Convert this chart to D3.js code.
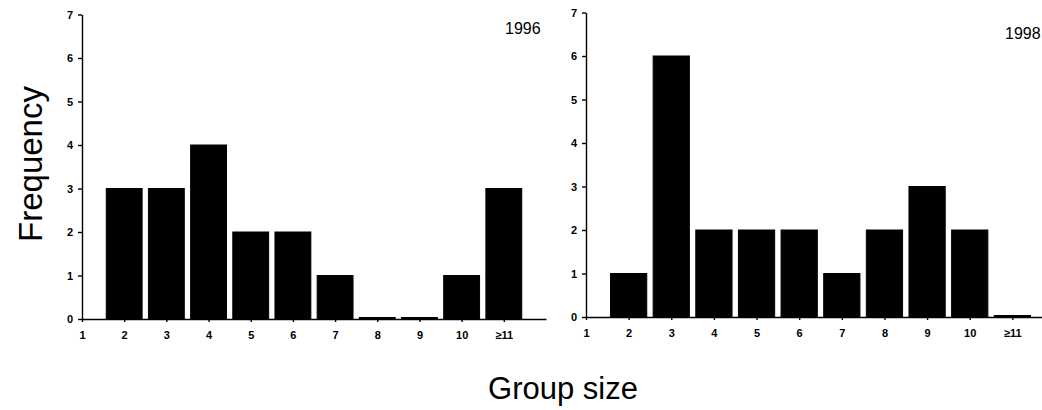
<!DOCTYPE html>
<html>
<head>
<meta charset="utf-8">
<script src="https://cdn.jsdelivr.net/npm/d3@7"></script>
<style>
  body { margin: 0; background: #fff; }
  svg { display: block; font-family: "Liberation Sans", Arial, sans-serif; }
  .axis path, .axis line { stroke: #000; stroke-width: 1.4; }
  .axis text { font-size: 11px; font-weight: bold; fill: #000; }
  .year { font-size: 16px; }
  .title { font-size: 31px; }
</style>
</head>
<body>
<svg id="chart" width="1042" height="410"></svg>
<script>
// group size categories (1 has no bar, it only marks the axis start)
let sizes = [2, 3, 4, 5, 6, 7, 8, 9, 10, 11];
let tickLabels = ["1", "2", "3", "4", "5", "6", "7", "8", "9", "10", "\u226511"];
let freq1996 = [3, 3, 4, 2, 2, 1, 0, 0, 1, 3];
let freq1998 = [1, 6, 2, 2, 2, 1, 2, 3, 2, 0];
let yTicks = [0, 1, 2, 3, 4, 5, 6, 7];

let svg = d3.select("#chart");

function drawPanel(values, year, xRange, yRange, yearPos) {
    let x = d3.scaleLinear().domain([1, 12]).range(xRange);
    let y = d3.scaleLinear().domain([0, 7]).range(yRange);
    let step = x(2) - x(1);
    let barW = step * 0.85;

    // zero bars still show as a thin line on the axis, like the scan
    svg.append("g").selectAll("rect").data(sizes.map((s, i) => ({s: s, v: values[i]}))).join("rect")
        .attr("x", d => x(d.s) - barW / 2)
        .attr("y", d => y(d.v) - (d.v === 0 ? 1.5 : 0))
        .attr("width", barW)
        .attr("height", d => y(0) - y(d.v) + (d.v === 0 ? 1.5 : 0))
        .attr("fill", "#000")
        .attr("stroke", "#000")
        .attr("stroke-width", 1);

    let xAxis = d3.axisBottom(x).tickValues(d3.range(1, 12)).tickSize(3).tickSizeOuter(0)
        .tickFormat((d, i) => tickLabels[i]);
    let gx = svg.append("g").classed("axis", true).attr("transform", "translate(0," + y(0) + ")").call(xAxis);
    gx.selectAll("text").attr("dy", "1.3em");

    let yAxis = d3.axisLeft(y).tickValues(yTicks).tickSize(4).tickSizeOuter(0).tickFormat(d3.format("d"));
    let gy = svg.append("g").classed("axis", true).attr("transform", "translate(" + xRange[0] + ",0)").call(yAxis);
    gy.selectAll("text").attr("x", -9);

    svg.append("text").classed("year", true).attr("x", yearPos[0]).attr("y", yearPos[1]).text(year);
}

drawPanel(freq1996, "1996", [82, 546], [319, 14.5], [505, 34]);
drawPanel(freq1998, "1998", [586, 1055], [317, 12.5], [1005, 39]);

svg.append("text").classed("title", true)
    .style("font-size", "33px")
    .attr("transform", "translate(42,164) rotate(-90)")
    .attr("text-anchor", "middle")
    .text("Frequency");

svg.append("text").classed("title", true)
    .attr("x", 563).attr("y", 399)
    .attr("text-anchor", "middle")
    .text("Group size");
</script>
</body>
</html>
